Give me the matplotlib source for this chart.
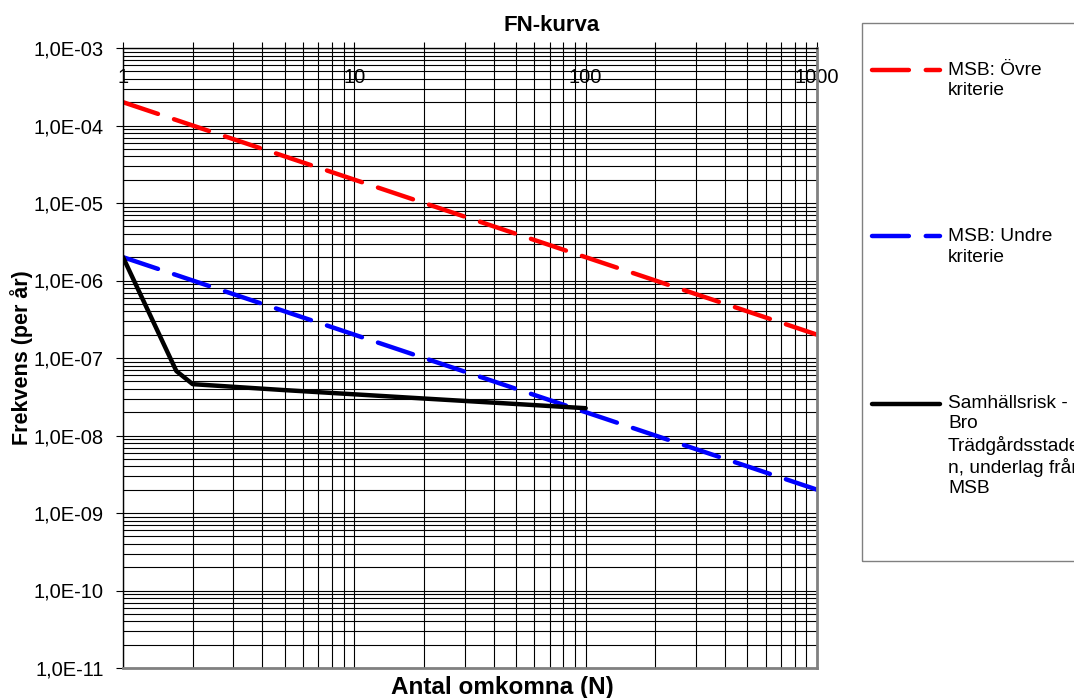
import numpy as np
import matplotlib
matplotlib.use("Agg")
import matplotlib.pyplot as plt
from matplotlib.ticker import LogLocator, FuncFormatter, NullFormatter
from matplotlib.legend_handler import HandlerLine2D
from matplotlib.patches import Rectangle

plt.rcParams['font.family'] = ['Liberation Sans', 'DejaVu Sans']

# ---- data ----
n_crit = [1, 1000]
upper_crit = [2e-4, 2e-7]
lower_crit = [2e-6, 2e-9]
n_risk = [1, 1.7, 2, 3, 5, 10, 20, 50, 100]
risk = [2e-6, 6.8e-8, 4.6e-8, 4.25e-8, 3.85e-8, 3.4e-8, 3.0e-8, 2.55e-8, 2.25e-8]
labels = ["MSB: Övre\nkriterie", "MSB: Undre\nkriterie",
          "Samhällsrisk -\nBro\nTrädgårdsstade\nn, underlag från\nMSB"]
title = "FN-kurva"
xlabel = "Antal omkomna (N)"
ylabel = "Frekvens (per år)"

W, H = 1074, 698
fig = plt.figure(figsize=(W / 100, H / 100), dpi=100)
L, R, T, B = 123, 817, 48, 668
ax = fig.add_axes([L / W, 1 - B / H, (R - L) / W, (B - T) / H])
ax.set_xscale('log')
ax.set_yscale('log')
ax.set_xlim(1, 1000)
ax.set_ylim(1e-11, 1e-3)

ax.grid(True, which='major', color='black', lw=0.8)
ax.grid(True, which='minor', color='black', lw=0.8)
ax.set_axisbelow(True)

lw = 3.2
dash = (8.3, 3.8)
l1, = ax.plot(n_crit, upper_crit, color='#ff0000', lw=lw, dashes=dash, dash_capstyle='round')
l2, = ax.plot(n_crit, lower_crit, color='#0000ff', lw=lw, dashes=dash, dash_capstyle='round')
l3, = ax.plot(n_risk, risk, color='black', lw=lw, solid_capstyle='round', solid_joinstyle='round')

# ticks
ax.xaxis.tick_top()
ax.xaxis.set_major_locator(LogLocator(base=10, numticks=10))
ax.xaxis.set_minor_locator(LogLocator(base=10, subs=np.arange(2, 10), numticks=20))
ax.xaxis.set_minor_formatter(NullFormatter())
ax.xaxis.set_major_formatter(FuncFormatter(lambda v, p: f"{v:g}"))
ax.tick_params(axis='x', which='both', direction='out', length=4, width=0.8, top=True, bottom=False,
               labelsize=14.5, pad=-32)

ax.yaxis.set_major_locator(LogLocator(base=10, numticks=20))
ax.yaxis.set_minor_locator(LogLocator(base=10, subs=np.arange(2, 10), numticks=40))
ax.yaxis.set_minor_formatter(NullFormatter())


def yfmt(v, p):
    e = int(np.floor(np.log10(v) + 1e-9))
    m = v / 10 ** e
    return f"{m:.1f}".replace('.', ',') + f"E{'-' if e < 0 else '+'}{abs(e):02d}"


ax.yaxis.set_major_formatter(FuncFormatter(yfmt))
ax.tick_params(axis='y', which='major', direction='out', length=5, width=0.8, labelsize=14.5, pad=9)
ax.tick_params(axis='y', which='minor', length=0)

for s in ['left', 'top']:
    ax.spines[s].set_color('black')
    ax.spines[s].set_linewidth(1.0)
for s in ['right', 'bottom']:
    ax.spines[s].set_color('#808080')
    ax.spines[s].set_linewidth(2.0)

ax.set_title(title, fontsize=16, fontweight='bold', x=0.618, pad=12)
ax.set_xlabel(xlabel, fontsize=17.5, fontweight='bold', x=0.546, labelpad=6)
ax.xaxis.set_label_position('bottom')
ax.set_ylabel(ylabel, fontsize=15.5, fontweight='bold', labelpad=0)

# legend frame
fig.add_artist(Rectangle((862 / W, 1 - 561 / H), 0.3, (561 - 23) / H, transform=fig.transFigure,
                         fill=False, edgecolor='#808080', lw=1.0))


class UpHandler(HandlerLine2D):
    def __init__(self, dy, **kw):
        super().__init__(**kw)
        self.dy = dy

    def create_artists(self, legend, orig_handle, xdescent, ydescent, width, height, fontsize, trans):
        arts = super().create_artists(legend, orig_handle, xdescent, ydescent, width, height, fontsize, trans)
        for a in arts:
            a.set_ydata(np.asarray(a.get_ydata()) + self.dy * fontsize)
        return arts


leg = fig.legend([l1, l2, l3], labels, loc='upper left', bbox_to_anchor=(872 / W, 1 - 62 / H),
                 frameon=False, fontsize=13.8, handlelength=3.55, handletextpad=0.42,
                 labelspacing=6.75, borderpad=0, borderaxespad=0,
                 handler_map={l1: UpHandler(0.55), l2: UpHandler(0.55), l3: UpHandler(2.2)})
for t in leg.get_texts():
    t.set_linespacing(1.24)

fig.savefig('out.png', dpi=100)
